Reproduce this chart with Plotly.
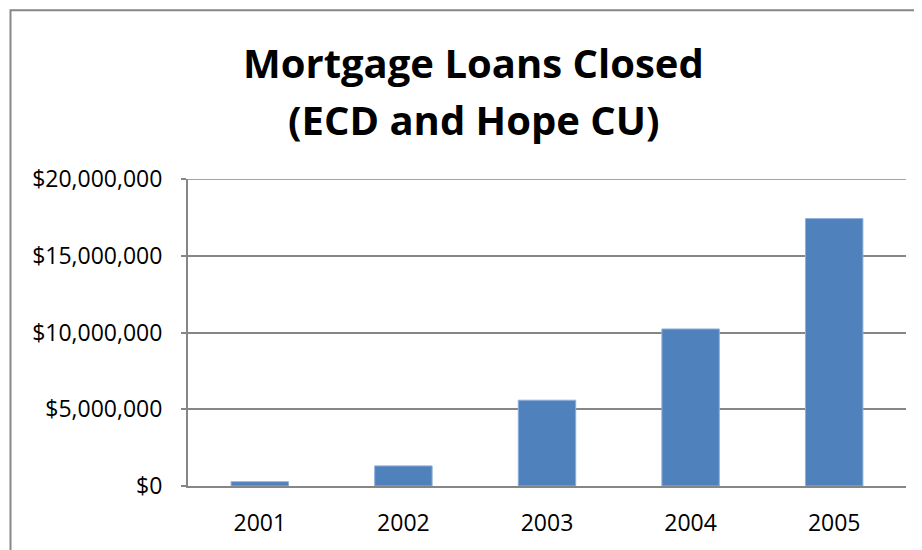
import plotly.graph_objects as go

years = ["2001", "2002", "2003", "2004", "2005"]
loans = [280000, 1310000, 5590000, 10230000, 17420000]
y_ticks = [0, 5000000, 10000000, 15000000, 20000000]
y_tick_labels = ["$0", "$5,000,000", "$10,000,000", "$15,000,000", "$20,000,000"]
title_lines = ["Mortgage Loans Closed", "(ECD and Hope CU)"]
y_max = 20000000

# page is offset by the default 8px body margin
OFF = 8
PAGE_W, PAGE_H = 922, 550
W, H = PAGE_W - OFF, PAGE_H - OFF
plot_l, plot_r, plot_t, plot_b = 188, 906, 179, 489  # page pixels
ml, mr, mt, mb = plot_l - OFF, PAGE_W - plot_r, plot_t - OFF, PAGE_H - plot_b
pw, ph = plot_r - plot_l, plot_b - plot_t

def px_x(x):
    return (x - plot_l) / pw

def px_y(y):
    return (plot_b - y) / ph

FONT = "Open Sans, Liberation Sans, sans-serif"
GRID = "#868686"

fig = go.Figure(go.Bar(
    x=years, y=loans,
    marker=dict(color="#4F81BD", line=dict(color="#8DB0DA", width=1)),
    width=0.4,
))

fig.update_layout(
    width=W, height=H,
    margin=dict(l=ml, r=mr, t=mt, b=mb),
    paper_bgcolor="white", plot_bgcolor="white",
    showlegend=False,
    font=dict(family=FONT, color="#000000"),
    xaxis=dict(
        showgrid=False, showline=True, linecolor=GRID, linewidth=2,
        ticks="", tickfont=dict(size=23), ticklabelstandoff=15,
    ),
    yaxis=dict(
        range=[0, y_max], tickvals=y_ticks, ticktext=y_tick_labels,
        showgrid=True, gridcolor=GRID, gridwidth=1.5,
        showline=True, linecolor=GRID, linewidth=2,
        ticks="outside", ticklen=5, tickcolor=GRID, tickwidth=1.5,
        tickfont=dict(size=23), ticklabelstandoff=14, zeroline=False,
    ),
    annotations=[
        dict(
            text="<b>%s</b>" % title_lines[0],
            xref="paper", yref="paper", x=px_x(473.5), y=px_y(61),
            xanchor="center", yanchor="middle", showarrow=False,
            font=dict(size=40, family=FONT, color="#000000"),
        ),
        dict(
            text="<b>%s</b>" % title_lines[1],
            xref="paper", yref="paper", x=px_x(473.5), y=px_y(119),
            xanchor="center", yanchor="middle", showarrow=False,
            font=dict(size=40, family=FONT, color="#000000"),
        ),
    ],
    shapes=[
        dict(
            type="rect", xref="paper", yref="paper",
            x0=px_x(10.5), x1=px_x(940), y0=px_y(570), y1=px_y(8.5),
            line=dict(color="#878787", width=2), layer="below",
        ),
        dict(
            type="line", xref="paper", yref="y",
            x0=0, x1=1, y0=y_max, y1=y_max,
            line=dict(color=GRID, width=1.5), layer="below",
        ),
    ],
)

fig.write_html("out.html")
